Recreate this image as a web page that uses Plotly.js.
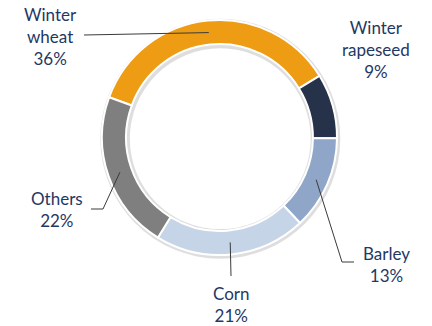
<!DOCTYPE html>
<html>
<head>
<meta charset="utf-8">
<script src="https://cdn.plot.ly/plotly-3.0.1.min.js"></script>
<style>html,body{margin:0;padding:0;background:#fff;}#chart{width:432px;height:326px;}</style>
</head>
<body>
<div id="chart"></div>
<script>
// ---- data ----
const categories = ['Winter wheat', 'Winter rapeseed', 'Barley', 'Corn', 'Others'];
const values = [36, 9, 13, 21, 22];
const colors = ['#EF9C15', '#25324A', '#8FA6C8', '#C6D4E7', '#7F7F7F'];

// ---- layout geometry (pixels) ----
const W = 432, H = 326;
const cx = 219.5, cy = 137.5, R = 117.5, HOLE = 0.795;
const ROT = -70; // start angle of first slice, clockwise from 12 o'clock

const px = x => x / W;
const py = y => 1 - y / H;

// label block centres and leader-line elbows (pixels)
const labelPos = [
  {x: 50, y: 36, path: [[84, 35]]},
  {x: 376, y: 49, path: null},
  {x: 386, y: 264, path: [[342, 262], [354, 262]]},
  {x: 231, y: 304, path: [[231, 276]]},
  {x: 57, y: 210, path: [[103, 209], [91, 209]]}
];

const total = values.reduce((a, b) => a + b, 0);
const annotations = [];
const shapes = [];
let acc = 0;
values.forEach((v, i) => {
  const mid = (ROT + (acc + v / 2) / total * 360) * Math.PI / 180;
  acc += v;
  const rMid = R * (1 + HOLE) / 2;
  const sx = cx + rMid * Math.sin(mid);
  const sy = cy - rMid * Math.cos(mid);
  const lp = labelPos[i];
  annotations.push({
    x: px(lp.x), y: py(lp.y), xref: 'paper', yref: 'paper',
    xanchor: 'center', yanchor: 'middle', showarrow: false, align: 'center',
    text: categories[i].split(' ').join('<br>') + '<br>' + v + '%',
    font: {family: 'Lato, "Open Sans", sans-serif', size: 17, color: '#1F3864'}
  });
  if (lp.path) {
    let prev = [sx, sy];
    lp.path.forEach(pt => {
      shapes.push({type: 'line', xref: 'paper', yref: 'paper',
        x0: px(prev[0]), y0: py(prev[1]), x1: px(pt[0]), y1: py(pt[1]),
        line: {color: '#3a3a3a', width: 1}});
      prev = pt;
    });
  }
});

const dom = r => ({x: [px(cx - r), px(cx + r)], y: [py(cy + r), py(cy - r)]});

const shadowR = R + 2.5;
const shadow = {
  type: 'pie', values: [1], labels: ['s'], sort: false, hole: (R * HOLE - 3) / shadowR,
  domain: {x: [px(cx - shadowR + 0.8), px(cx + shadowR + 0.8)], y: [py(cy + shadowR + 1.2), py(cy - shadowR + 1.2)]},
  marker: {colors: ['rgba(0,0,0,0.13)'], line: {width: 0}},
  textinfo: 'none', hoverinfo: 'skip', showlegend: false
};

const ring = {
  type: 'pie', values: values, labels: categories, sort: false,
  direction: 'clockwise', rotation: ROT, hole: HOLE,
  domain: dom(R),
  marker: {colors: colors, line: {color: '#ffffff', width: 2}},
  textinfo: 'none', hoverinfo: 'label+percent', showlegend: false
};

Plotly.newPlot('chart', [shadow, ring], {
  width: W, height: H, margin: {l: 0, r: 0, t: 0, b: 0},
  paper_bgcolor: '#ffffff', plot_bgcolor: '#ffffff', showlegend: false,
  annotations: annotations, shapes: shapes
}, {displayModeBar: false, staticPlot: true});
</script>
</body>
</html>
